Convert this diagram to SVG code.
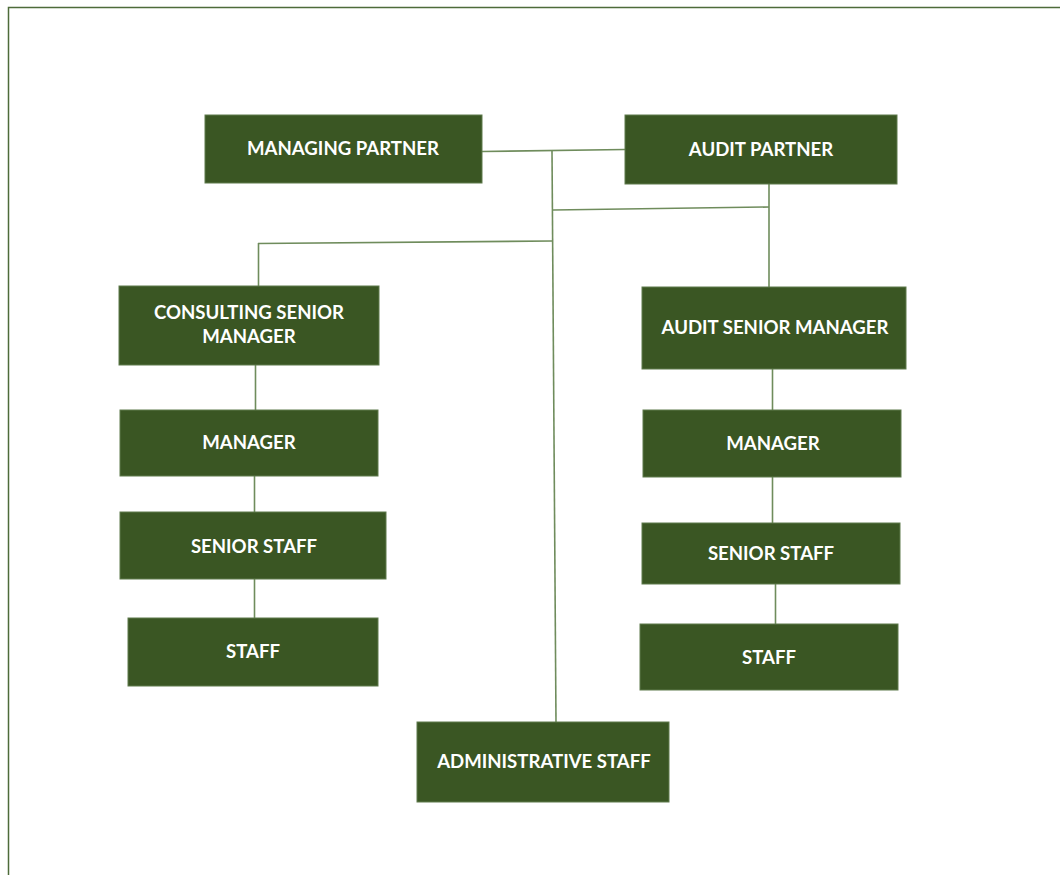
<svg xmlns="http://www.w3.org/2000/svg" width="1060" height="875" viewBox="0 0 1060 875">
<style>
.box{fill:#3a5623;stroke:#5f7a4c;stroke-width:1}
.lbl{font-family:Lato,"Liberation Sans",sans-serif;font-weight:bold;font-size:18.6px;fill:#ffffff;text-anchor:middle;dominant-baseline:central}
.con{stroke:#6f8c5c;stroke-width:1.6;fill:none}
</style>
<rect x="0" y="0" width="1060" height="875" fill="#ffffff"/>
<path d="M8.5,875 V7.5 H1060" fill="none" stroke="#4e6b3a" stroke-width="1.5"/>
<g id="connectors">
<path class="con" d="M482,151.5 L625,149.5"/>
<path class="con" d="M552,151 L556,722"/>
<path class="con" d="M769,184 V287"/>
<path class="con" d="M553,210 L769,207"/>
<path class="con" d="M258,243.5 L552,241"/>
<path class="con" d="M258.5,243 V286"/>
<path class="con" d="M255.5,365 V410"/>
<path class="con" d="M254.5,476 V512"/>
<path class="con" d="M254.5,579 V618"/>
<path class="con" d="M772.5,369 V410"/>
<path class="con" d="M772.5,477 V523"/>
<path class="con" d="M775.5,584 V624"/>
</g>
<g id="managing-partner"><rect class="box" x="205" y="115" width="277" height="68"/><text class="lbl" x="343" y="148">MANAGING PARTNER</text></g>
<g id="audit-partner"><rect class="box" x="625" y="115" width="272" height="69"/><text class="lbl" x="761" y="149">AUDIT PARTNER</text></g>
<g id="consulting-senior-manager"><rect class="box" x="119" y="286" width="260" height="79"/><text class="lbl" x="249" y="312">CONSULTING SENIOR</text><text class="lbl" x="249" y="336">MANAGER</text></g>
<g id="audit-senior-manager"><rect class="box" x="642" y="287" width="264" height="82"/><text class="lbl" x="775" y="327">AUDIT SENIOR MANAGER</text></g>
<g id="manager-left"><rect class="box" x="120" y="410" width="258" height="66"/><text class="lbl" x="249" y="442">MANAGER</text></g>
<g id="manager-right"><rect class="box" x="643" y="410" width="258" height="67"/><text class="lbl" x="773" y="443">MANAGER</text></g>
<g id="senior-staff-left"><rect class="box" x="120" y="512" width="266" height="67"/><text class="lbl" x="254" y="546">SENIOR STAFF</text></g>
<g id="senior-staff-right"><rect class="box" x="642" y="523" width="258" height="61"/><text class="lbl" x="771" y="553">SENIOR STAFF</text></g>
<g id="staff-left"><rect class="box" x="128" y="618" width="250" height="68"/><text class="lbl" x="253" y="651">STAFF</text></g>
<g id="staff-right"><rect class="box" x="640" y="624" width="258" height="66"/><text class="lbl" x="769" y="657">STAFF</text></g>
<g id="administrative-staff"><rect class="box" x="417" y="722" width="252" height="80"/><text class="lbl" x="544" y="761">ADMINISTRATIVE STAFF</text></g>
</svg>
